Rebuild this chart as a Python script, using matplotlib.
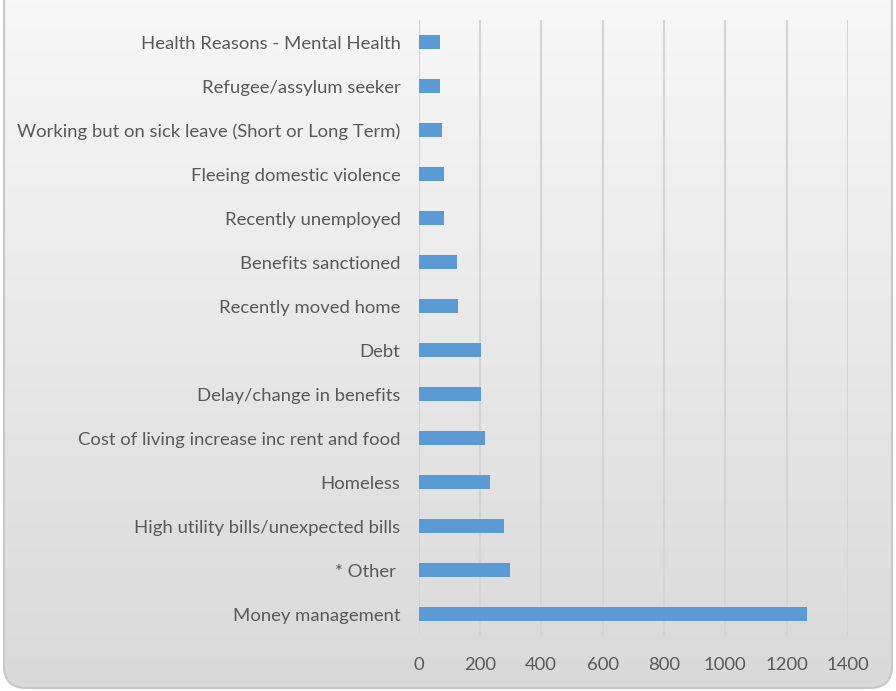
import matplotlib
matplotlib.use("Agg")
import matplotlib.pyplot as plt
import numpy as np
from matplotlib.patches import FancyBboxPatch

categories = [
    "Health Reasons - Mental Health",
    "Refugee/assylum seeker",
    "Working but on sick leave (Short or Long Term)",
    "Fleeing domestic violence",
    "Recently unemployed",
    "Benefits sanctioned",
    "Recently moved home",
    "Debt",
    "Delay/change in benefits",
    "Cost of living increase inc rent and food",
    "Homeless",
    "High utility bills/unexpected bills",
    "* Other ",
    "Money management",
]
values = [70, 70, 76, 84, 84, 125, 128, 204, 204, 218, 232, 278, 297, 1265]
xticks = [0, 200, 400, 600, 800, 1000, 1200, 1400]

plt.rcParams['font.family'] = ['Lato', 'DejaVu Sans']

W, H = 896, 691
fig = plt.figure(figsize=(W / 100, H / 100), dpi=100)
fig.patch.set_facecolor('white')

# background panel with gradient and rounded border
bg = fig.add_axes([0, 0, 1, 1], zorder=-10)
bg.set_xlim(0, W)
bg.set_ylim(H, 0)
bg.axis('off')
grad = np.linspace(0, 1, 256).reshape(-1, 1)
top = np.array([0.973, 0.973, 0.973])
bot = np.array([0.850, 0.850, 0.850])
img = top + (bot - top) * grad[..., None]
img = np.repeat(img, 2, axis=1)
im = bg.imshow(img, extent=[4, 892, 688, -20], aspect='auto', interpolation='bilinear')
panel = FancyBboxPatch((4, -20), 888, 708, boxstyle="round,pad=0,rounding_size=22",
                       facecolor='none', edgecolor='#c8c8c8', linewidth=1.5)
bg.add_patch(panel)
im.set_clip_path(panel)

ax = fig.add_axes([418.5 / W, 1 - 636 / H, (848 - 418.5) / W, (636 - 20) / H])
ax.patch.set_alpha(0)
y = np.arange(len(categories))
ax.barh(y, values, height=0.34, color='#5b9bd5', zorder=3)
ax.set_ylim(len(categories) - 0.5, -0.5)
ax.set_xlim(0, 1400)
ax.set_xticks(xticks)
ax.set_xticklabels([str(t) for t in xticks])
ax.set_yticks(y)
ax.set_yticklabels(categories)
ax.grid(axis='x', color='#d4d4d4', linewidth=1.5, zorder=0)
for s in ax.spines.values():
    s.set_visible(False)
ax.tick_params(axis='both', length=0, labelsize=13.3, labelcolor='#595959')
ax.tick_params(axis='y', pad=13)
ax.tick_params(axis='x', pad=15)

fig.savefig('out.png', dpi=100)
